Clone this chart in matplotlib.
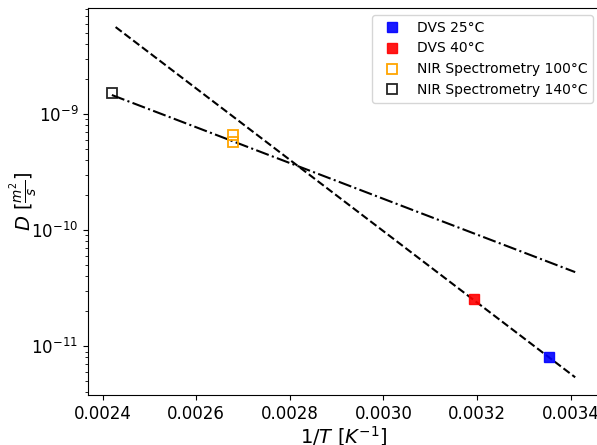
import numpy as np
import matplotlib
matplotlib.use('Agg')
import matplotlib.pyplot as plt

# measured points (1/T, D)
dvs25_x = [1 / 298.15]
dvs25_y = [8.0e-12]
dvs40_x = [1 / 313.15]
dvs40_y = [2.54e-11]
nir100_x = [1 / 373.15, 1 / 373.15]
nir100_y = [6.6e-10, 5.8e-10]
nir140_x = [1 / 413.15]
nir140_y = [1.53e-9]

# fitted Arrhenius lines (end points)
fit_dvs_x = [0.002428, 0.003410]
fit_dvs_y = [5.62e-9, 5.4e-12]
fit_nir_x = [0.002420, 0.003410]
fit_nir_y = [1.46e-9, 4.35e-11]

fig = plt.figure(figsize=(5.97, 4.45), dpi=100)
ax = fig.add_axes([88 / 597, 1 - 395 / 445, 512 / 597, 387 / 445])

ax.semilogy(fit_dvs_x, fit_dvs_y, 'k--', linewidth=1.5)
ax.semilogy(fit_nir_x, fit_nir_y, 'k-.', linewidth=1.5)

ax.plot(dvs25_x, dvs25_y, 's', color='blue', markersize=7, alpha=0.9, label='DVS 25°C')
ax.plot(dvs40_x, dvs40_y, 's', color='red', markersize=7, alpha=0.9, label='DVS 40°C')
ax.plot(nir100_x, nir100_y, 's', color='orange', fillstyle='none', markersize=7,
        markeredgewidth=1.3, label='NIR Spectrometry 100°C')
ax.plot(nir140_x, nir140_y, 's', color='black', fillstyle='none', markersize=7,
        markeredgewidth=1.3, alpha=0.85, label='NIR Spectrometry 140°C')

ax.set_xlim(0.002369, 0.003463)
ax.set_ylim(10 ** -11.42, 10 ** -8.086)
ax.set_xticks([0.0024, 0.0026, 0.0028, 0.0030, 0.0032, 0.0034])
ax.tick_params(axis='both', labelsize=12)

ax.set_xlabel(r'$1/T\ [K^{-1}]$', fontsize=14, labelpad=1)
ax.set_ylabel(r'$D\ [\frac{m^2}{s}]$', fontsize=14)
ax.yaxis.set_label_coords(-0.094, 0.5)
ax.legend(loc='upper right', fontsize=10)

fig.savefig('out.png', dpi=100)
